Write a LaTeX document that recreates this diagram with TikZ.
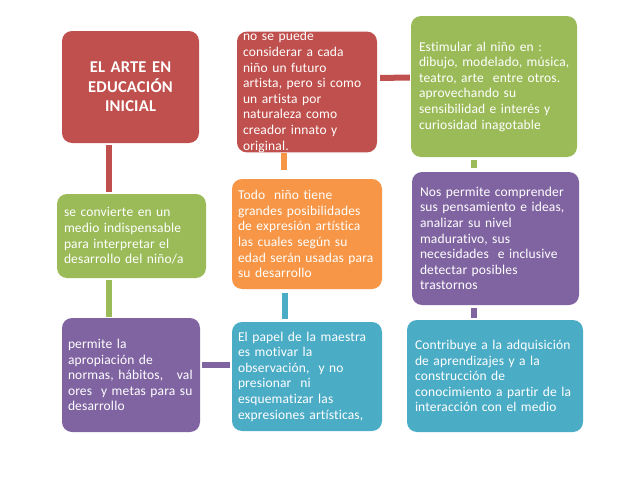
\documentclass[tikz,border=0pt]{standalone}
\usepackage{fontspec}
\setmainfont{Carlito}[Ligatures=NoCommon, LetterSpace=1.2]
\definecolor{ored}{HTML}{C0504D}
\definecolor{ogreen}{HTML}{9BBB59}
\definecolor{opurple}{HTML}{8064A2}
\definecolor{oblue}{HTML}{4BACC6}
\definecolor{oorange}{HTML}{F79646}
\begin{document}
\begin{tikzpicture}[x=1pt,y=-1pt,
  box/.style={rounded corners=10pt, inner xsep=7pt, inner ysep=0pt, align=left,
    text=white, font=\fontsize{13.5}{15.6}\selectfont, anchor=center},
  titlebox/.style={box, align=center, font=\fontsize{16.5}{19.5}\selectfont\bfseries},
  conn/.style={line width=6pt}]
\fill[white] (0,0) rectangle (638,479);
\useasboundingbox (0,0) rectangle (638,479);

\node[titlebox, fill=ored, minimum width=137pt, minimum height=112pt, text width=123pt] (b1) at (130.5,87)
  {EL ARTE EN\\EDUCACIÓN\\INICIAL};
\node[box, fill=ored, minimum width=140pt, minimum height=120pt, text width=128pt, inner xsep=6pt] (b2) at (307,92)
  {no se puede\\considerar a cada\\niño un futuro\\artista, pero si como\\un artista por\\naturaleza como\\creador innato y\\original.};
\node[box, fill=ogreen, minimum width=166pt, minimum height=141pt, text width=150pt, inner xsep=8pt] (b3) at (494,86.5)
  {Estimular al niño en :\\\mbox{dibujo, modelado, música,}\\\mbox{teatro, arte\ \ entre otros.}\\aprovechando su\\sensibilidad e interés y\\curiosidad inagotable};
\node[box, fill=opurple, minimum width=167pt, minimum height=133pt, text width=151pt, inner xsep=8pt] (b4) at (495.5,238.5)
  {Nos permite comprender\\sus pensamiento e ideas,\\analizar su nivel\\madurativo, sus\\necesidades\ \ e inclusive\\detectar posibles\\trastornos};
\node[box, fill=ogreen, minimum width=149pt, minimum height=84pt, text width=135pt] (b5) at (131.5,236)
  {se convierte en un\\medio indispensable\\para interpretar el\\desarrollo del niño/a};
\node[box, fill=oorange, minimum width=150pt, minimum height=110pt, text width=138pt, inner xsep=6pt] (b6) at (307,234)
  {Todo\ \ niño tiene\\grandes posibilidades\\de expresión artística\\las cuales según su\\\mbox{edad serán usadas para}\\su desarrollo};
\node[box, fill=opurple, minimum width=138pt, minimum height=114pt, text width=126pt, inner xsep=6pt] (b7) at (131,375)
  {permite la\\apropiación de\\\mbox{normas, hábitos,\ \ \ val}\\\mbox{ores\ \ y metas para su}\\desarrollo};
\node[box, fill=oblue, minimum width=150pt, minimum height=109pt, text width=138pt, inner xsep=6pt] (b8) at (307,376.5)
  {El papel de la maestra\\es motivar la\\observación,\ \ y no\\presionar\ \ ni\\esquematizar las\\\mbox{expresiones artísticas,}};
\node[box, fill=oblue, minimum width=176pt, minimum height=112pt, text width=160pt, inner xsep=8pt] (b9) at (495,376)
  {\mbox{Contribuye a la adquisición}\\de aprendizajes y a la\\construcción de\\\mbox{conocimiento a partir de la}\\interacción con el medio};

\draw[conn, ored, shorten <=3pt, shorten >=1pt] ([yshift=14pt]b2.east) -- ([yshift=9pt]b3.west);
\draw[conn, ored, shorten <=2pt, shorten >=2pt] ([xshift=-21.5pt]b1.south) -- ([xshift=-22.5pt]b5.north);
\draw[conn, ogreen, shorten <=2pt, shorten >=1pt] ([xshift=-22.5pt]b5.south) -- ([xshift=-22pt]b7.north);
\draw[conn, oorange, shorten <=0pt, shorten >=9pt] ([xshift=-23pt]b2.south) -- ([xshift=-23pt]b6.north);
\draw[conn, oblue, shorten <=4pt, shorten >=3pt] ([xshift=-22.5pt]b6.south) -- ([xshift=-22.5pt]b8.north);
\draw[conn, ogreen, shorten <=3pt, shorten >=4pt] ([xshift=-20.5pt]b3.south) -- ([xshift=-22pt]b4.north);
\draw[conn, opurple, shorten <=3pt, shorten >=2pt] ([xshift=-22pt]b4.south) -- ([xshift=-21.5pt]b9.north);
\draw[conn, opurple, shorten <=2pt, shorten >=2pt] ([yshift=10pt]b7.east) -- ([yshift=11.5pt]b8.west);
\end{tikzpicture}
\end{document}
